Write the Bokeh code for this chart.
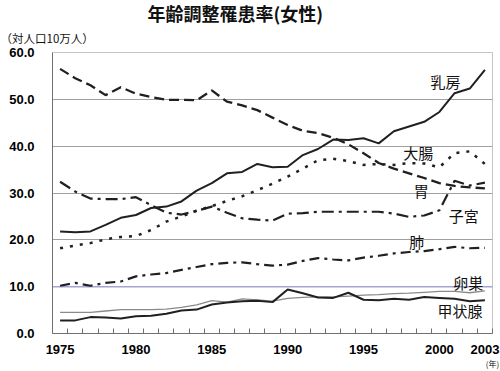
from bokeh.plotting import figure
from bokeh.models import FixedTicker, NumeralTickFormatter, Label, Span, Range1d, Title
from bokeh.embed import file_html
from bokeh.resources import INLINE

years = list(range(1975, 2004))

breast = [21.8, 21.6, 21.8, 23.2, 24.7, 25.3, 26.8, 27.1, 28.2, 30.5,
          32.1, 34.2, 34.5, 36.2, 35.5, 35.6, 38.1, 39.4, 41.4, 41.3,
          41.7, 40.6, 43.2, 44.2, 45.2, 47.3, 51.3, 52.3, 56.3]
stomach = [56.5, 54.5, 53.0, 50.9, 52.6, 51.2, 50.5, 49.9, 49.9, 49.8,
           51.9, 49.5, 48.7, 47.7, 46.1, 44.5, 43.3, 42.8, 41.8, 40.4,
           38.5, 36.4, 35.2, 34.2, 33.2, 32.1, 31.5, 31.2, 31.0]
colon = [18.2, 18.8, 19.3, 20.1, 20.6, 20.8, 22.1, 23.9, 25.0, 26.2,
         27.2, 28.3, 29.3, 30.6, 32.0, 33.5, 35.2, 37.0, 37.3, 36.8,
         36.0, 36.2, 36.0, 36.4, 36.3, 35.5, 38.5, 38.9, 36.2]
uterus = [32.4, 30.3, 28.8, 28.7, 28.7, 29.1, 27.4, 25.8, 25.4, 26.2,
          27.1, 25.8, 24.6, 24.3, 24.1, 25.6, 25.7, 26.0, 26.0, 26.0,
          26.0, 26.0, 25.6, 24.9, 25.2, 26.3, 32.6, 31.6, 32.2]
lung = [10.2, 10.8, 10.2, 10.8, 11.1, 12.2, 12.6, 12.9, 13.6, 14.2,
        14.8, 15.1, 15.2, 14.8, 14.5, 14.7, 15.5, 16.1, 15.8, 15.6,
        16.2, 16.6, 17.1, 17.4, 17.6, 18.0, 18.5, 18.2, 18.3]
ovary = [4.5, 4.5, 4.5, 4.8, 5.1, 5.1, 5.1, 5.2, 5.6, 6.1,
         7.0, 6.7, 7.4, 7.2, 6.9, 7.5, 7.7, 7.8, 7.8, 8.0,
         8.2, 8.3, 8.5, 8.6, 8.8, 9.0, 9.0, 8.7, 9.1]
thyroid = [2.8, 2.8, 3.5, 3.4, 3.2, 3.7, 3.8, 4.2, 4.9, 5.1,
           6.2, 6.6, 6.9, 7.0, 6.7, 9.4, 8.6, 7.7, 7.6, 8.7,
           7.2, 7.1, 7.4, 7.2, 7.8, 7.6, 7.4, 6.9, 7.1]

series_names = ["乳房", "大腸", "胃", "子宮", "肺", "卵巣", "甲状腺"]
label_x = [2000.4, 1998.6, 1998.8, 2001.6, 1998.5, 2001.9, 2001.35]
label_y = [53.8, 38.7, 30.6, 25.1, 19.6, 10.9, 4.9]

x_tick_years = [1975, 1980, 1985, 1990, 1995, 2000, 2003]
y_ticks = [0, 10, 20, 30, 40, 50, 60]

title_text = "年齢調整罹患率(女性)"
unit_text = "（対人口10万人）"
year_unit = "(年)"

p = figure(width=500, height=371,
           x_range=Range1d(1974.5, 2003.5), y_range=Range1d(0, 60),
           output_backend="svg", toolbar_location=None,
           min_border_left=52, min_border_right=8,
           min_border_top=52, min_border_bottom=37)
p.background_fill_color = "white"
p.border_fill_color = "white"
p.outline_line_color = "#c4c4c4"

# titles (unit label nearest the frame, main title above it)
main_title = Title(text=title_text, align="left", offset=95,
                   text_font="Noto Sans CJK JP", text_font_style="bold",
                   text_font_size="18px", text_color="#111111", standoff=-7)
unit_title = Title(text=unit_text, align="left", offset=-52,
                   vertical_align="middle",
                   text_font="Noto Sans CJK JP", text_font_style="normal",
                   text_font_size="11.5px", text_color="#111111", standoff=12)
p.title = None
p.above = [unit_title, main_title]

# x axis
xt = FixedTicker(ticks=x_tick_years, minor_ticks=[1974.5 + i for i in range(30)])
p.xaxis.ticker = xt
p.xaxis.major_tick_in = 0
p.xaxis.major_tick_out = 0
p.xaxis.minor_tick_in = 5
p.xaxis.minor_tick_out = 0
p.xaxis.minor_tick_line_color = "#707070"
p.xaxis.axis_line_color = "#707070"
p.xaxis.major_label_text_font = "Liberation Sans"
p.xaxis.major_label_text_font_style = "bold"
p.xaxis.major_label_text_font_size = "13px"
p.xaxis.major_label_text_color = "black"
p.xaxis.major_label_standoff = 11
p.xaxis.axis_label = year_unit
p.xaxis.axis_label_align = "end"
p.xaxis.axis_label_standoff = 1
p.xaxis.axis_label_text_font = "Noto Sans CJK JP"
p.xaxis.axis_label_text_font_style = "normal"
p.xaxis.axis_label_text_font_size = "8px"
p.xaxis.axis_label_text_color = "#111111"

# y axis
p.yaxis.ticker = FixedTicker(ticks=y_ticks)
p.yaxis.formatter = NumeralTickFormatter(format="0.0")
p.yaxis.major_tick_in = 0
p.yaxis.major_tick_out = 0
p.yaxis.minor_tick_in = 0
p.yaxis.minor_tick_out = 0
p.yaxis.axis_line_color = "#707070"
p.yaxis.major_label_text_font = "Liberation Sans"
p.yaxis.major_label_text_font_style = "bold"
p.yaxis.major_label_text_font_size = "13px"
p.yaxis.major_label_text_color = "black"
p.yaxis.major_label_standoff = 18

p.xgrid.visible = False
p.ygrid.grid_line_color = "#a0a0a0"
p.ygrid.grid_line_width = 1

p.add_layout(Span(location=10, dimension="width", line_color="#a4a4d4",
                  line_width=1.5, level="underlay"))

# series
p.line(years, ovary, line_color="#8a8a8a", line_width=1.3)
p.line(years, thyroid, line_color="#202020", line_width=2)
p.line(years, lung, line_color="#202020", line_width=2.2, line_dash="10 5 3 5")
p.line(years, uterus, line_color="#202020", line_width=2.2, line_dash="12 5 3 5")
p.line(years, colon, line_color="#202020", line_width=2.5, line_dash="3 7")
p.line(years, stomach, line_color="#202020", line_width=2.3, line_dash="10 5")
p.line(years, breast, line_color="#202020", line_width=2)

for name, lx, ly in zip(series_names, label_x, label_y):
    p.add_layout(Label(x=lx, y=ly, text=name, text_font="Noto Sans CJK JP",
                       text_font_size="15px", text_align="center",
                       text_baseline="middle", text_color="#111111"))

open("out.html", "w").write(file_html(p, INLINE))
